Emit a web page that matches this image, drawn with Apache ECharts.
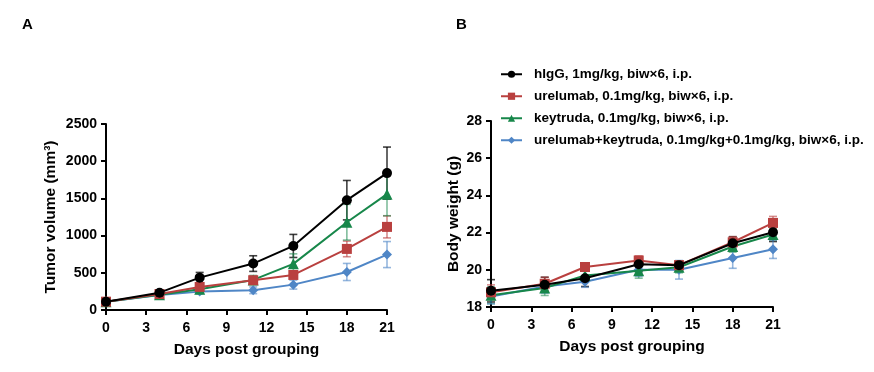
<!DOCTYPE html>
<html><head><meta charset="utf-8">
<script src="https://cdn.jsdelivr.net/npm/echarts@6/dist/echarts.min.js"></script>
<style>html,body{margin:0;padding:0;background:#fff}#c{width:874px;height:372px}</style>
</head><body><div id="c"></div>
<script>
const days = [0, 4, 7, 11, 14, 18, 21];
const seriesNames = [
  'hIgG, 1mg/kg, biw×6, i.p.',
  'urelumab, 0.1mg/kg, biw×6, i.p.',
  'keytruda, 0.1mg/kg, biw×6, i.p.',
  'urelumab+keytruda, 0.1mg/kg+0.1mg/kg, biw×6, i.p.'
];
const colors = ['#000000', '#b9403f', '#17874a', '#4f86c6'];
const errColors = ['rgba(0,0,0,0.75)', 'rgba(185,64,63,0.6)', 'rgba(23,135,74,0.55)', 'rgba(79,134,198,0.6)'];
const symbols = ['circle', 'rect', 'triangle', 'diamond'];

// Panel A: tumor volume (mm3)
const tumorHigG = [112, 233, 435, 624, 861, 1476, 1840];
const tumorHigGErr = [15, 30, 70, 105, 155, 265, 350];
const tumorUrel = [112, 215, 310, 400, 471, 821, 1117];
const tumorUrelErr = [12, 25, 40, 50, 45, 105, 148];
const tumorKey = [112, 205, 280, 404, 620, 1180, 1557];
const tumorKeyErr = [12, 25, 35, 60, 135, 240, 290];
const tumorCombo = [112, 200, 247, 265, 341, 511, 745];
const tumorComboErr = [12, 25, 30, 45, 60, 115, 175];

// Panel B: body weight (g)
const bwHigG = [18.87, 19.2, 19.55, 20.3, 20.25, 21.43, 22.02];
const bwHigGErr = [0.6, 0.4, 0.45, 0.4, 0.2, 0.35, 0.5];
const bwUrel = [18.79, 19.25, 20.15, 20.5, 20.25, 21.48, 22.52];
const bwUrelErr = [0.4, 0.35, 0.2, 0.25, 0.2, 0.3, 0.35];
const bwKey = [18.63, 19.02, 19.7, 19.95, 20.14, 21.25, 21.9];
const bwKeyErr = [0.45, 0.4, 0.3, 0.4, 0.3, 0.3, 0.3];
const bwCombo = [18.57, 19.1, 19.36, 20.0, 20.0, 20.63, 21.11];
const bwComboErr = [0.4, 0.35, 0.3, 0.35, 0.5, 0.55, 0.5];

const xTicks = [0, 3, 6, 9, 12, 15, 18, 21];
const yTicksA = [0, 500, 1000, 1500, 2000, 2500];
const yTicksB = [18, 20, 22, 24, 26, 28];

const tumorSets = [[tumorHigG, tumorHigGErr], [tumorUrel, tumorUrelErr], [tumorKey, tumorKeyErr], [tumorCombo, tumorComboErr]];
const bwSets = [[bwHigG, bwHigGErr], [bwUrel, bwUrelErr], [bwKey, bwKeyErr], [bwCombo, bwComboErr]];

const font = 'Liberation Sans, Arial, sans-serif';
function xAxis(gi) {
  return {
    gridIndex: gi, type: 'value', min: xTicks[0], max: xTicks[xTicks.length - 1], interval: xTicks[1] - xTicks[0],
    name: 'Days post grouping', nameLocation: 'middle', nameGap: 32,
    nameTextStyle: {fontFamily: font, fontWeight: 'bold', fontSize: 15.5, color: '#000'},
    axisLine: {onZero: false, lineStyle: {color: '#000', width: 2}},
    axisTick: {show: true, length: 5, lineStyle: {width: 2, color: '#000'}},
    axisLabel: {fontFamily: font, fontWeight: 'bold', fontSize: 14, color: '#000', margin: 11, formatter: v => String(v)},
    splitLine: {show: false}
  };
}
function yAxis(gi, ticks, name, gap) {
  return {
    gridIndex: gi, type: 'value', min: ticks[0], max: ticks[ticks.length - 1], interval: ticks[1] - ticks[0],
    name: name, nameLocation: 'middle', nameGap: gap,
    nameTextStyle: {fontFamily: font, fontWeight: 'bold', fontSize: 15.5, color: '#000'},
    axisLine: {show: true, onZero: false, lineStyle: {color: '#000', width: 2}},
    axisTick: {show: true, length: 5, lineStyle: {width: 2, color: '#000'}},
    axisLabel: {fontFamily: font, fontWeight: 'bold', fontSize: 14, color: '#000', margin: 9, formatter: v => String(v)},
    splitLine: {show: false}
  };
}

const series = [];
function addPanel(sets, gi) {
  sets.forEach((s, i) => {
    const vals = s[0], errs = s[1];
    const errData = days.map((d, k) => [d, vals[k] - errs[k], vals[k] + errs[k]]);
    series.push({
      type: 'custom', xAxisIndex: gi, yAxisIndex: gi, z: 2 + i * 0.1, silent: true,
      data: errData,
      renderItem: (params, api) => {
        const x = api.value(0);
        const lo = api.coord([x, api.value(1)]);
        const hi = api.coord([x, api.value(2)]);
        const w = 4;
        const st = {stroke: errColors[i], lineWidth: 1.6, fill: null};
        return {type: 'group', children: [
          {type: 'line', shape: {x1: lo[0], y1: lo[1], x2: hi[0], y2: hi[1]}, style: st},
          {type: 'line', shape: {x1: lo[0] - w, y1: lo[1], x2: lo[0] + w, y2: lo[1]}, style: st},
          {type: 'line', shape: {x1: hi[0] - w, y1: hi[1], x2: hi[0] + w, y2: hi[1]}, style: st}
        ]};
      }
    });
  });
  [3, 2, 1, 0].forEach(i => {
    const vals = sets[i][0];
    series.push({
      type: 'line', name: seriesNames[i], xAxisIndex: gi, yAxisIndex: gi,
      data: days.map((d, k) => [d, vals[k]]),
      symbol: symbols[i], symbolSize: i === 2 ? 11 : 10,
      showAllSymbol: true, animation: false, z: 5 + (3 - i),
      lineStyle: {color: colors[i], width: 2},
      itemStyle: {color: colors[i]},
      emphasis: {disabled: true}
    });
  });
}
addPanel(tumorSets, 0);
addPanel(bwSets, 1);

const chart = echarts.init(document.getElementById('c'), null, {renderer: 'canvas'});
chart.setOption({
  animation: false,
  backgroundColor: '#fff',
  color: colors,
  title: [
    {text: 'A', left: 22, top: 17, padding: 0, textStyle: {fontFamily: font, fontWeight: 'bold', fontSize: 15, color: '#000'}},
    {text: 'B', left: 456, top: 17, padding: 0, textStyle: {fontFamily: font, fontWeight: 'bold', fontSize: 15, color: '#000'}}
  ],
  legend: {
    data: seriesNames, orient: 'vertical', left: 500, top: 67, padding: 0,
    itemWidth: 21, itemHeight: 9, itemGap: 7.5, selectedMode: false,
    textStyle: {fontFamily: font, fontWeight: 'bold', fontSize: 13.5, color: '#000', padding: [0, 0, 0, 7], lineHeight: 14.5}
  },
  grid: [
    {left: 106, right: 487, top: 124, bottom: 62, containLabel: false},
    {left: 491, right: 101, top: 121, bottom: 65, containLabel: false}
  ],
  xAxis: [xAxis(0), xAxis(1)],
  yAxis: [
    yAxis(0, yTicksA, 'Tumor volume (mm³)', 47),
    yAxis(1, yTicksB, 'Body weight (g)', 29)
  ],
  series: series
});
</script></body></html>
